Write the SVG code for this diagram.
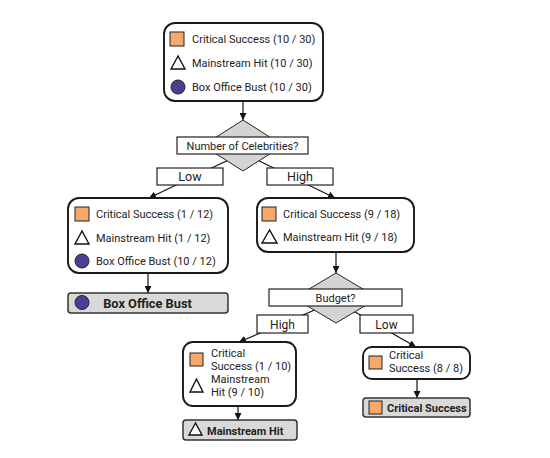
<svg xmlns="http://www.w3.org/2000/svg" width="550" height="458" viewBox="0 0 550 458">
<defs>
<style>
.node{fill:#fff;stroke:#1a1a1a;stroke-width:1.9}
.leaf{fill:#d9d9d9;stroke:#333;stroke-width:1.5}
.dia{fill:#d4d4d4;stroke:#222;stroke-width:1}
.lbl{fill:#fff;stroke:#222;stroke-width:1.2}
.sq{fill:#f6a96b;stroke:#222;stroke-width:1}
.tri{fill:#fff;stroke:#111;stroke-width:1.4;stroke-linejoin:miter}
.cir{fill:#4f3c95;stroke:#222;stroke-width:1}
.t{font-family:Roboto,"Liberation Sans",sans-serif;font-size:11px;fill:#222}
.lt{font-family:Roboto,"Liberation Sans",sans-serif;font-size:12.5px;fill:#222;text-anchor:middle}
.qt{font-family:Roboto,"Liberation Sans",sans-serif;font-size:11px;fill:#222;text-anchor:middle}
.b{font-family:Roboto,"Liberation Sans",sans-serif;font-weight:bold;font-size:11px;fill:#222}
.edge{fill:none;stroke:#111;stroke-width:1.2}
</style>
<marker id="ah" viewBox="0 0 10 10" refX="10" refY="5" markerWidth="7" markerHeight="7" orient="auto" markerUnits="userSpaceOnUse">
<path d="M0,0 L10,5 L0,10 z" fill="#111"/>
</marker>
</defs>
<rect width="550" height="458" fill="#fff"/>

<g id="connectors">
<line class="edge" x1="243" y1="101" x2="243" y2="120" marker-end="url(#ah)"/>
<line class="edge" x1="243" y1="153" x2="149" y2="198" marker-end="url(#ah)"/>
<line class="edge" x1="243" y1="153" x2="335" y2="198" marker-end="url(#ah)"/>
<line class="edge" x1="148" y1="273" x2="148" y2="293" marker-end="url(#ah)"/>
<line class="edge" x1="336" y1="252" x2="336" y2="273" marker-end="url(#ah)"/>
<line class="edge" x1="336" y1="301" x2="239" y2="342" marker-end="url(#ah)"/>
<line class="edge" x1="336" y1="301" x2="416" y2="347" marker-end="url(#ah)"/>
<line class="edge" x1="238" y1="406" x2="238" y2="420" marker-end="url(#ah)"/>
<line class="edge" x1="417" y1="379" x2="417" y2="398" marker-end="url(#ah)"/>
</g>

<g id="root">
<rect class="node" x="164" y="23" width="159" height="78" rx="11"/>
<rect class="sq" x="170" y="32" width="14" height="14"/>
<text class="t" x="192" y="43">Critical Success (10 / 30)</text>
<polygon class="tri" points="178,56 171,69 185,69"/>
<text class="t" x="192" y="67">Mainstream Hit (10 / 30)</text>
<circle class="cir" cx="178" cy="87" r="7"/>
<text class="t" x="192" y="91">Box Office Bust (10 / 30)</text>
</g>

<g id="q-celebrities">
<polygon class="dia" points="243,120 283,145.5 243,171 203,145.5"/>
<rect class="lbl" x="177" y="137" width="131" height="17"/>
<text class="qt" x="242.5" y="149.5">Number of Celebrities?</text>
</g>

<g id="lbl-low-1">
<rect class="lbl" x="157" y="168" width="66" height="17"/>
<text class="lt" x="190" y="181">Low</text>
</g>
<g id="lbl-high-1">
<rect class="lbl" x="267" y="168" width="66" height="17"/>
<text class="lt" x="300" y="181">High</text>
</g>

<g id="node-low">
<rect class="node" x="68" y="198" width="160" height="75" rx="11"/>
<rect class="sq" x="75" y="207" width="14" height="14"/>
<text class="t" x="96" y="218">Critical Success (1 / 12)</text>
<polygon class="tri" points="82,231 75,244 89,244"/>
<text class="t" x="96" y="242">Mainstream Hit (1 / 12)</text>
<circle class="cir" cx="82" cy="261" r="7"/>
<text class="t" x="96" y="265">Box Office Bust (10 / 12)</text>
</g>

<g id="leaf-bust">
<rect class="leaf" x="68" y="293" width="160" height="20" rx="3"/>
<circle class="cir" cx="82" cy="302.5" r="7"/>
<text class="b" x="147.5" y="307.5" style="font-size:12.8px;text-anchor:middle">Box Office Bust</text>
</g>

<g id="node-high">
<rect class="node" x="257" y="198" width="157" height="54" rx="11"/>
<rect class="sq" x="262" y="207" width="14" height="14"/>
<text class="t" x="283" y="218">Critical Success (9 / 18)</text>
<polygon class="tri" points="269.5,230 262,243 277,243"/>
<text class="t" x="283" y="241">Mainstream Hit (9 / 18)</text>
</g>

<g id="q-budget">
<polygon class="dia" points="336,273 378,298 336,323 294,298"/>
<rect class="lbl" x="269" y="289" width="133" height="17"/>
<text class="qt" x="335.5" y="301.5">Budget?</text>
</g>

<g id="lbl-high-2">
<rect class="lbl" x="257" y="315" width="51" height="18"/>
<text class="lt" x="282.5" y="328.5" style="font-size:12px">High</text>
</g>
<g id="lbl-low-2">
<rect class="lbl" x="360" y="315" width="53" height="18"/>
<text class="lt" x="386.5" y="328.5" style="font-size:12px">Low</text>
</g>

<g id="node-budget-high">
<rect class="node" x="183" y="342" width="113" height="64" rx="10"/>
<rect class="sq" x="190" y="353" width="13" height="13"/>
<text class="t" x="211" y="357">Critical</text>
<text class="t" x="211" y="370">Success (1 / 10)</text>
<polygon class="tri" points="196.5,379 190,392 203,392"/>
<text class="t" x="211" y="382.5">Mainstream</text>
<text class="t" x="211" y="395.5">Hit (9 / 10)</text>
</g>

<g id="leaf-hit">
<rect class="leaf" x="183" y="420" width="114" height="20" rx="3"/>
<polygon class="tri" points="195.5,423 189,435 202,435"/>
<text class="b" x="207" y="434.5">Mainstream Hit</text>
</g>

<g id="node-budget-low">
<rect class="node" x="363" y="347" width="107" height="32" rx="9"/>
<rect class="sq" x="369" y="356" width="13" height="13"/>
<text class="t" x="389" y="359">Critical</text>
<text class="t" x="389" y="372">Success (8 / 8)</text>
</g>

<g id="leaf-critical">
<rect class="leaf" x="363" y="398" width="107" height="19" rx="3"/>
<rect class="sq" x="369" y="401" width="13" height="13"/>
<text class="b" x="387" y="411.5">Critical Success</text>
</g>
</svg>
